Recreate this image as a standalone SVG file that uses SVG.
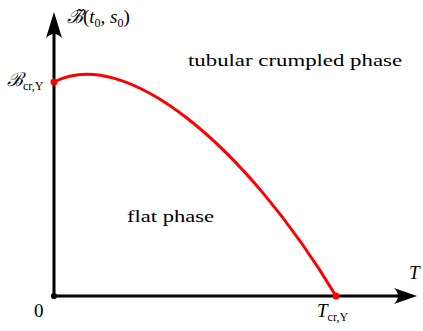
<svg xmlns="http://www.w3.org/2000/svg" width="423" height="331" viewBox="0 0 423 331">
<style>
.t{font-family:"Liberation Serif","DejaVu Serif",serif;font-size:16px;fill:#000}
.b{font-size:19px}
.i{font-style:italic}
.s{font-size:12px}
.ax{stroke:#000;stroke-width:3;fill:none}
</style>
<rect width="423" height="331" fill="#fff"/>
<g id="connectors">
<line class="ax" x1="54" y1="296" x2="54" y2="30"/>
<path d="M46,38 Q54,30 62,38 L54,12 z" fill="#000"/>
<line class="ax" x1="54" y1="296" x2="400" y2="296"/>
<path d="M394,288 Q402,296 394,304 L417,296 z" fill="#000"/>
<path d="M54,82 C125,45 245,145 336,296" stroke="#f00" stroke-width="3" fill="none"/>
<circle cx="54" cy="296" r="3" fill="#000"/>
<circle cx="54" cy="82" r="3.5" fill="#f00"/>
<circle cx="336" cy="296" r="3.5" fill="#f00"/>
</g>
<g id="labels">
<text class="t" x="188" y="66" textLength="214" lengthAdjust="spacingAndGlyphs">tubular crumpled phase</text>
<text class="t" x="127" y="222" textLength="87" lengthAdjust="spacingAndGlyphs">flat phase</text>
<text class="t b" x="34" y="317">0</text>
<text class="t i b" x="409" y="279">T</text>
<text class="t" x="317" y="317"><tspan class="i b">T</tspan><tspan class="s" dy="4">cr,Y</tspan></text>
<text class="t" x="7" y="86"><tspan class="i b">ℬ</tspan><tspan class="s" dy="4">cr,Y</tspan></text>
<text class="t b" x="67" y="23"><tspan class="i">ℬ̃</tspan><tspan>(</tspan><tspan class="i">t</tspan><tspan class="s" dy="4">0</tspan><tspan dy="-4">, </tspan><tspan class="i">s</tspan><tspan class="s" dy="4">0</tspan><tspan dy="-4">)</tspan></text>
</g>
</svg>
